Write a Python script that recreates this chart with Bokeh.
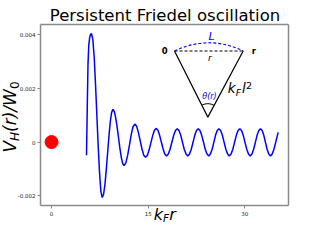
import math
from bokeh.plotting import figure
from bokeh.models import Range1d, FixedTicker, Label, LinearAxis
from bokeh.embed import file_html
from bokeh.resources import INLINE

# ---- data ----
kf_r = [5.43, 5.55, 5.66, 5.78, 5.92, 6.06, 6.21,
        6.42, 6.63, 6.83, 7.04, 7.25, 7.46, 7.66, 7.87,
        8.08, 8.29, 8.49, 8.70, 8.91, 9.11, 9.32, 9.53,
        9.75, 9.96, 10.18, 10.40, 10.61, 10.83, 11.04, 11.26,
        11.54, 11.82, 12.10, 12.37, 12.65, 12.93,
        13.21, 13.48, 13.76, 14.04, 14.31, 14.59,
        14.87, 15.14, 15.42, 15.70, 15.97, 16.25,
        16.52, 16.78, 17.05, 17.32, 17.58, 17.85,
        18.13, 18.40, 18.68, 18.96, 19.23, 19.51,
        19.78, 20.06, 20.33, 20.60, 20.88, 21.15,
        21.42, 21.69, 21.96, 22.23, 22.50, 22.77,
        23.04, 23.31, 23.59, 23.86, 24.13, 24.40,
        24.66, 24.93, 25.19, 25.45, 25.72, 25.98,
        26.25, 26.52, 26.79, 27.06, 27.33, 27.60,
        27.87, 28.14, 28.41, 28.68, 28.95, 29.22,
        29.49, 29.76, 30.03, 30.30, 30.57, 30.84,
        31.11, 31.37, 31.64, 31.90, 32.17, 32.43,
        32.69, 32.95, 33.20, 33.46, 33.72, 33.98,
        34.25, 34.52, 34.79, 35.06, 35.18]
vh_over_w0 = [-0.00049, 0.0013, 0.0029, 0.0036, 0.0039, 0.00403, 0.00405,
              0.00382, 0.00315, 0.00216, 0.00099, -0.00018, -0.00117, -0.00184, -0.00207,
              -0.00195, -0.00159, -0.00106, -0.00043, 0.00021, 0.00074, 0.00110, 0.00122,
              0.00114, 0.00091, 0.00057, 0.00017, -0.00023, -0.00057, -0.00080, -0.00088,
              -0.00078, -0.00049, -0.00011, 0.00028, 0.00057, 0.00067,
              0.00059, 0.00036, 0.00005, -0.00026, -0.00049, -0.00057,
              -0.00050, -0.00030, -0.00003, 0.00024, 0.00044, 0.00051,
              0.00044, 0.00025, -0.00001, -0.00026, -0.00045, -0.00052,
              -0.00045, -0.00027, -0.00001, 0.00025, 0.00043, 0.00050,
              0.00043, 0.00025, -0.00001, -0.00027, -0.00045, -0.00052,
              -0.00045, -0.00027, -0.00001, 0.00025, 0.00043, 0.00050,
              0.00043, 0.00025, -0.00001, -0.00027, -0.00045, -0.00052,
              -0.00045, -0.00027, -0.00001, 0.00025, 0.00043, 0.00050,
              0.00043, 0.00025, -0.00001, -0.00027, -0.00045, -0.00052,
              -0.00045, -0.00027, -0.00001, 0.00025, 0.00043, 0.00050,
              0.00043, 0.00025, -0.00001, -0.00027, -0.00045, -0.00052,
              -0.00045, -0.00027, -0.00001, 0.00025, 0.00043, 0.00050,
              0.00043, 0.00025, -0.00001, -0.00027, -0.00045, -0.00052,
              -0.00045, -0.00027, -0.00001, 0.00025, 0.00036]
impurity_x = [0.0]
impurity_y = [0.0]

x_ticks = [0, 15, 30]
x_tick_labels = ["0", "15", "30"]
y_ticks = [-0.002, 0, 0.002, 0.004]
y_tick_labels = ["-0.002", "0", "0.002", "0.004"]

# inset diagram vertices (data units): "0" corner, apex, "r" corner
tri_x = [19.09, 24.26, 29.75]
tri_y = [0.003403, 0.000930, 0.003403]
arc_peak_y = 0.003707

# ---- layout ----
X0, X1 = -1.71, 36.78          # visible axes box range
Y0, Y1 = -0.00237, 0.00439
W, H = 304, 224
BOX_L, BOX_R, BOX_T, BOX_B = 40, 288, 24, 205   # axes box in canvas pixels
SX = (X1 - X0) / (BOX_R - BOX_L)
SY = (Y1 - Y0) / (BOX_B - BOX_T)
XS, XE = X0 - BOX_L * SX, X0 + (W - BOX_L) * SX
YE, YS = Y1 + BOX_T * SY, Y1 - (H - BOX_T) * SY
FONT = "DejaVu Sans"
SPINE = "#8a8a8a"
BASE_SHIFT = 0.37   # em; correction so that an "alphabetic" label sits on the wanted baseline

p = figure(width=W, height=H, output_backend="svg", toolbar_location=None,
           x_range=Range1d(XS, XE), y_range=Range1d(YS, YE), title=None,
           x_axis_location=None, y_axis_location=None, min_border=0)
p.background_fill_color = "white"
p.border_fill_color = "white"
p.outline_line_color = None
p.grid.visible = False


def make_axis(loc, bounds, ticks, labels):
    ax = LinearAxis(fixed_location=loc, bounds=bounds,
                    ticker=FixedTicker(ticks=ticks),
                    major_label_overrides=dict(zip(ticks, labels)))
    ax.axis_line_color = SPINE
    ax.axis_line_width = 1.5
    ax.major_tick_line_color = SPINE
    ax.major_tick_line_width = 1
    ax.major_tick_out = 3
    ax.major_tick_in = 0
    ax.minor_tick_line_color = None
    ax.major_label_text_font = FONT
    ax.major_label_text_font_size = "5.5px"
    ax.major_label_text_color = "#222222"
    ax.major_label_standoff = 2
    return ax


p.add_layout(make_axis(Y0, (X0, X1), x_ticks, x_tick_labels), "below")
p.add_layout(make_axis(X0, (Y0, Y1), y_ticks, y_tick_labels), "left")
p.add_layout(make_axis(Y1, (X0, X1), [], []), "above")
p.add_layout(make_axis(X1, (Y0, Y1), [], []), "right")


def add_label(x, y, text, size, style, color, align, baseline, angle):
    p.add_layout(Label(x=x, y=y, text=text, text_font=FONT,
                       text_font_size=f"{size}px", text_font_style=style,
                       text_color=color, text_align=align,
                       text_baseline=baseline, angle=angle))


def label_canvas(px, py, text, size, style="normal", color="black",
                 align="left", angle=0.0):
    # (px, py): start/centre of the text on its baseline, in canvas pixels
    if angle:
        px -= BASE_SHIFT * size
    else:
        py -= BASE_SHIFT * size
    add_label(XS + px * SX, YE - py * SY, text, size, style, color, align,
              "alphabetic", angle)


def ref_to_canvas(px, py):
    # reference picture axes box is (40..288, 28..213)
    return (BOX_L + (px - 40) * (BOX_R - BOX_L) / 248,
            BOX_T + (py - 28) * (BOX_B - BOX_T) / 185)


def label_ref(px, py, text, size, style="normal", color="black",
              align="left", baseline="alphabetic"):
    cx, cy = ref_to_canvas(px, py)
    if baseline == "alphabetic":
        cy -= BASE_SHIFT * size
    add_label(XS + cx * SX, YE - cy * SY, text, size, style, color, align,
              baseline, 0.0)


# ---- marks ----
p.line(kf_r, vh_over_w0, line_color="#0000ff", line_width=1.5)
p.scatter(impurity_x, impurity_y, size=13, color="#ff0000")

p.line(tri_x, tri_y, line_color="black", line_width=1.2)
p.line([tri_x[0], tri_x[2]], [tri_y[0], tri_y[2]], line_color="black",
       line_width=1.1, line_dash="3 2")
p.quadratic(x0=[tri_x[0]], y0=[tri_y[0]], x1=[tri_x[2]], y1=[tri_y[2]],
            cx=[(tri_x[0] + tri_x[2]) / 2], cy=[2 * arc_peak_y - tri_y[0]],
            line_color="#0000ff", line_width=1.1, line_dash="3 2")

ax_, ay_ = tri_x[1] / SX, tri_y[1] / SY
a_start = math.atan2(tri_y[2] / SY - ay_, tri_x[2] / SX - ax_)
a_end = math.atan2(tri_y[0] / SY - ay_, tri_x[0] / SX - ax_)
p.arc(x=[tri_x[1]], y=[tri_y[1]], radius=13.4, radius_units="screen",
      start_angle=a_start, end_angle=a_end, direction="anticlock",
      line_color="black", line_width=1.0)

# ---- texts ----
label_canvas(164.5, 21, "Persistent Friedel oscillation", 16.5, align="center")

rot = math.pi / 2
label_canvas(15.5, 152, "V", 17, "italic", angle=rot)
label_canvas(18.5, 140.4, "H", 12, "italic", angle=rot)
label_canvas(15.5, 131.4, "(r)/W", 17, "italic", angle=rot)
label_canvas(18.5, 88.6, "0", 12, angle=rot)

label_canvas(153.3, 220, "k", 16, "italic")
label_canvas(162.6, 221.3, "F", 10.5, "italic")
label_canvas(168.8, 220, "r", 16, "italic")

label_ref(164.3, 55, "0", 8.5, "bold", align="center", baseline="middle")
label_ref(253.3, 55, "r", 8.5, "bold", align="center", baseline="middle")
label_ref(211, 40, "L", 11, "italic", color="#0000ff", align="center", baseline="middle")
label_ref(209.3, 62, "r", 9, "italic", align="center", baseline="middle")
label_ref(209, 101.7, "\u03b8(r)", 8, "italic", color="#0000ff", align="center", baseline="middle")
label_ref(227.3, 98.5, "k", 13.5, "italic")
label_ref(235.2, 101, "F", 9.5, "italic")
label_ref(241.4, 98.5, "l", 13.5, "italic")
label_ref(245.6, 93.5, "2", 9.5)

open("out.html", "w").write(file_html(p, INLINE))
